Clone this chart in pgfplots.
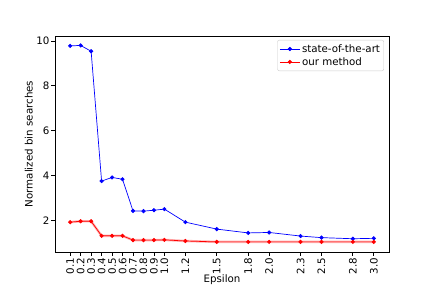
\documentclass[border=0pt]{standalone}
\usepackage{pgfplots}
\pgfplotsset{compat=1.18}
\usepackage{fontspec}
\setmainfont{DejaVu Sans}
\usetikzlibrary{calc}
\pgfplotstableread{
eps sota ours
0.1 9.78 1.93
0.2 9.80 1.97
0.3 9.54 1.97
0.4 3.76 1.32
0.5 3.92 1.32
0.6 3.84 1.32
0.7 2.43 1.13
0.8 2.42 1.13
0.9 2.46 1.13
1.0 2.51 1.14
1.2 1.93 1.09
1.5 1.62 1.05
1.8 1.45 1.05
2.0 1.47 1.05
2.3 1.31 1.05
2.5 1.24 1.05
2.8 1.19 1.05
3.0 1.21 1.05
}\datatable
\begin{document}
\begin{tikzpicture}
\begin{axis}[
  name=ax,
  at={(0,0)}, anchor=south west,
  scale only axis,
  width=334bp, height=216bp,
  xmin=-0.045, xmax=3.145,
  ymin=0.6, ymax=10.22,
  xtick={0.1,0.2,0.3,0.4,0.5,0.6,0.7,0.8,0.9,1.0,1.2,1.5,1.8,2.0,2.3,2.5,2.8,3.0},
  xticklabels={0.1,0.2,0.3,0.4,0.5,0.6,0.7,0.8,0.9,1.0,1.2,1.5,1.8,2.0,2.3,2.5,2.8,3.0},
  xticklabel style={rotate=90, anchor=east, font=\fontsize{10.3}{12}\selectfont, inner sep=2pt},
  ytick={2,4,6,8,10},
  yticklabel style={font=\fontsize{10.3}{12}\selectfont, inner sep=2pt},
  /pgf/number format/assume math mode=true,
  tick align=outside,
  xtick pos=bottom, ytick pos=left,
  major tick length=3.5bp,
  tick style={black, line width=0.8pt},
  axis line style={line width=0.8pt},
  xlabel={Epsilon},
  ylabel={Normalized bin searches},
  label style={font=\fontsize{10.3}{12}\selectfont},
  xlabel style={yshift=5bp},
  ylabel style={yshift=-2bp},
  legend style={at={(0.985,0.982)}, anchor=north east, draw=black!20, rounded corners=2pt,
    font=\fontsize{10.3}{12}\selectfont, inner xsep=2bp, inner ysep=2.5bp, row sep=0bp,
    nodes={inner sep=1.8bp}},
  legend image code/.code={\draw[mark repeat=2, mark phase=2] plot coordinates {(0bp,0bp) (10bp,0bp) (20bp,0bp)};},
  legend cell align=left,
]
\addplot[red!60, line width=2.4pt, opacity=0.5, forget plot] table[x=eps, y=ours] {\datatable};
\addplot[blue, line width=0.7pt, mark=*, mark size=1.7pt] table[x=eps, y=sota] {\datatable};
\addlegendentry{state-of-the-art}
\addplot[red, line width=0.7pt, mark=*, mark size=1.7pt] table[x=eps, y=ours] {\datatable};
\addlegendentry{our method}
\end{axis}
\pgfresetboundingbox
\path ($(ax.south west)+(-55bp,-36bp)$) rectangle ($(ax.north east)+(43bp,36bp)$);
\end{tikzpicture}
\end{document}
